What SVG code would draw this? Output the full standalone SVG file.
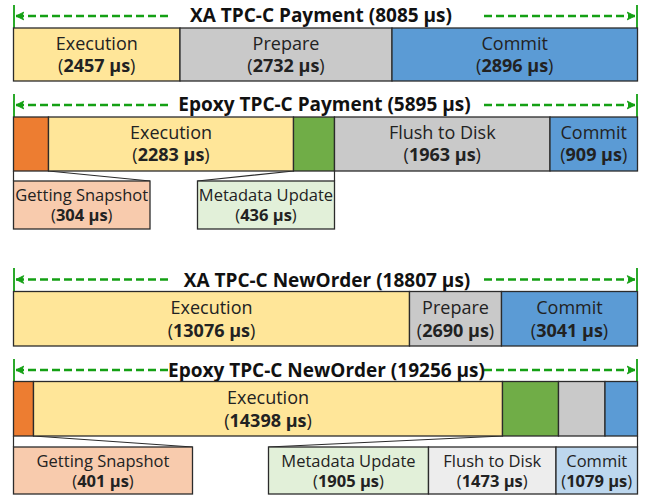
<svg xmlns="http://www.w3.org/2000/svg" width="646" height="496" viewBox="0 0 646 496">
  <defs>
    <style>
      .seg { stroke: #2b2b2b; stroke-width: 1.3; }
      .exec { fill: #FFE699; }
      .prep { fill: #C9C9C9; }
      .commit { fill: #5B9BD5; }
      .snap { fill: #ED7D31; }
      .meta { fill: #70AD47; }
      .c-snap { fill: #F8CBAD; }
      .c-meta { fill: #E2F0D9; }
      .c-flush { fill: #EDEDED; }
      .c-commit { fill: #BDD7EE; }
      .lead { stroke: #2b2b2b; stroke-width: 1.2; fill: none; }
      .title { font-family: "Open Sans", "Noto Sans", sans-serif; font-weight: bold; font-size: 19px; fill: #111; text-anchor: middle; }
      .lbl { font-family: "Open Sans", "Noto Sans", sans-serif; font-size: 18px; fill: #222; text-anchor: middle; }
      .small { font-family: "Open Sans", "Noto Sans", sans-serif; font-size: 16.5px; fill: #222; text-anchor: middle; }
      .b { font-weight: bold; }
      .span { stroke: #14A014; stroke-width: 2.4; stroke-dasharray: 8 4; fill: none; }
      .tick { stroke: #14A014; stroke-width: 1.8; }
    </style>
    <marker id="head" viewBox="0 0 10 10" refX="9" refY="5" markerWidth="4" markerHeight="4" orient="auto-start-reverse" markerUnits="strokeWidth">
      <path d="M1,1 L9,5 L1,9 L3,5 Z" fill="#14A014" stroke="#14A014" stroke-width="1"/>
    </marker>
  </defs>

  <!-- span arrows with end ticks -->
  <g id="connectors">
    <line class="tick" x1="14" y1="5" x2="14" y2="28"/>
    <line class="tick" x1="637" y1="5" x2="637" y2="28"/>
    <line class="span" x1="168" y1="16" x2="16" y2="16" marker-end="url(#head)"/>
    <line class="span" x1="484" y1="16" x2="635" y2="16" marker-end="url(#head)"/>

    <line class="tick" x1="14" y1="94" x2="14" y2="117"/>
    <line class="tick" x1="637" y1="94" x2="637" y2="117"/>
    <line class="span" x1="168" y1="105" x2="16" y2="105" marker-end="url(#head)"/>
    <line class="span" x1="484" y1="105" x2="635" y2="105" marker-end="url(#head)"/>

    <line class="tick" x1="14" y1="268" x2="14" y2="291"/>
    <line class="tick" x1="637" y1="268" x2="637" y2="291"/>
    <line class="span" x1="168" y1="279.5" x2="16" y2="279.5" marker-end="url(#head)"/>
    <line class="span" x1="484" y1="279.5" x2="635" y2="279.5" marker-end="url(#head)"/>

    <line class="tick" x1="14" y1="359" x2="14" y2="381"/>
    <line class="tick" x1="637" y1="359" x2="637" y2="381"/>
    <line class="span" x1="168" y1="370" x2="16" y2="370" marker-end="url(#head)"/>
    <line class="span" x1="484" y1="370" x2="635" y2="370" marker-end="url(#head)"/>

    <!-- callout leaders -->
    <path class="lead" d="M13.5,171 V181 M48.5,171 L150,181 M293.5,171 L197.5,181 M334.5,171 V181"/>
    <path class="lead" d="M13.5,436 V447 M33.5,436 L192.5,447 M502.5,436 L268.5,447 M637.5,436 V447"/>
  </g>

  <!-- XA TPC-C Payment -->
  <g id="xa-payment">
    <text class="title" x="321" y="21.5">XA TPC-C Payment (8085 µs)</text>
    <rect class="seg exec" x="13.5" y="28" width="166.5" height="53"/>
    <rect class="seg prep" x="180" y="28" width="212" height="53"/>
    <rect class="seg commit" x="392" y="28" width="245.5" height="53"/>
    <text class="lbl" x="96.75" y="50">Execution</text>
    <text class="lbl" x="96.75" y="72">(<tspan class="b">2457 µs</tspan>)</text>
    <text class="lbl" x="286" y="50">Prepare</text>
    <text class="lbl" x="286" y="72">(<tspan class="b">2732 µs</tspan>)</text>
    <text class="lbl" x="514.75" y="50">Commit</text>
    <text class="lbl" x="514.75" y="72">(<tspan class="b">2896 µs</tspan>)</text>
  </g>

  <!-- Epoxy TPC-C Payment -->
  <g id="epoxy-payment">
    <text class="title" x="324.5" y="110.5">Epoxy TPC-C Payment (5895 µs)</text>
    <rect class="seg snap" x="13.5" y="117" width="35" height="54"/>
    <rect class="seg exec" x="48.5" y="117" width="245" height="54"/>
    <rect class="seg meta" x="293.5" y="117" width="41" height="54"/>
    <rect class="seg prep" x="334.5" y="117" width="215.5" height="54"/>
    <rect class="seg commit" x="550" y="117" width="87.5" height="54"/>
    <text class="lbl" x="171" y="139">Execution</text>
    <text class="lbl" x="171" y="161">(<tspan class="b">2283 µs</tspan>)</text>
    <text class="lbl" x="442.25" y="139">Flush to Disk</text>
    <text class="lbl" x="442.25" y="161">(<tspan class="b">1963 µs</tspan>)</text>
    <text class="lbl" x="593.75" y="139">Commit</text>
    <text class="lbl" x="593.75" y="161">(<tspan class="b">909 µs</tspan>)</text>
  </g>
  <g id="epoxy-payment-snapshot">
    <rect class="seg c-snap" x="13.5" y="181" width="136.5" height="48"/>
    <text class="small" x="81.75" y="200.5">Getting Snapshot</text>
    <text class="small" x="81.75" y="220.5">(<tspan class="b">304 µs</tspan>)</text>
  </g>
  <g id="epoxy-payment-metadata">
    <rect class="seg c-meta" x="197.5" y="181" width="137" height="48"/>
    <text class="small" x="266" y="200.5">Metadata Update</text>
    <text class="small" x="266" y="220.5">(<tspan class="b">436 µs</tspan>)</text>
  </g>

  <!-- XA TPC-C NewOrder -->
  <g id="xa-neworder">
    <text class="title" x="327" y="286.5">XA TPC-C NewOrder (18807 µs)</text>
    <rect class="seg exec" x="13.5" y="291.5" width="396" height="54.5"/>
    <rect class="seg prep" x="409.5" y="291.5" width="92" height="54.5"/>
    <rect class="seg commit" x="501.5" y="291.5" width="136" height="54.5"/>
    <text class="lbl" x="211.5" y="314">Execution</text>
    <text class="lbl" x="211.5" y="337">(<tspan class="b">13076 µs</tspan>)</text>
    <text class="lbl" x="455.5" y="314">Prepare</text>
    <text class="lbl" x="455.5" y="337">(<tspan class="b">2690 µs</tspan>)</text>
    <text class="lbl" x="569.5" y="314">Commit</text>
    <text class="lbl" x="569.5" y="337">(<tspan class="b">3041 µs</tspan>)</text>
  </g>

  <!-- Epoxy TPC-C NewOrder -->
  <g id="epoxy-neworder">
    <rect x="169" y="359" width="314" height="22" fill="#fff"/>
    <text class="title" x="326.5" y="377">Epoxy TPC-C NewOrder (19256 µs)</text>
    <rect class="seg snap" x="13.5" y="381.5" width="20" height="54.5"/>
    <rect class="seg exec" x="33.5" y="381.5" width="469" height="54.5"/>
    <rect class="seg meta" x="502.5" y="381.5" width="56" height="54.5"/>
    <rect class="seg prep" x="558.5" y="381.5" width="46.5" height="54.5"/>
    <rect class="seg commit" x="605" y="381.5" width="32.5" height="54.5"/>
    <text class="lbl" x="268" y="404">Execution</text>
    <text class="lbl" x="268" y="427">(<tspan class="b">14398 µs</tspan>)</text>
  </g>
  <g id="epoxy-neworder-snapshot">
    <rect class="seg c-snap" x="13.5" y="447" width="179" height="47"/>
    <text class="small" x="103" y="466.5">Getting Snapshot</text>
    <text class="small" x="103" y="487">(<tspan class="b">401 µs</tspan>)</text>
  </g>
  <g id="epoxy-neworder-metadata">
    <rect class="seg c-meta" x="268.5" y="447" width="160" height="47"/>
    <text class="small" x="348.5" y="466.5">Metadata Update</text>
    <text class="small" x="348.5" y="487">(<tspan class="b">1905 µs</tspan>)</text>
  </g>
  <g id="epoxy-neworder-flush">
    <rect class="seg c-flush" x="428.5" y="447" width="127.5" height="47"/>
    <text class="small" x="492.25" y="466.5">Flush to Disk</text>
    <text class="small" x="492.25" y="487">(<tspan class="b">1473 µs</tspan>)</text>
  </g>
  <g id="epoxy-neworder-commit">
    <rect class="seg c-commit" x="556" y="447" width="81.5" height="47"/>
    <text class="small" x="596.75" y="466.5">Commit</text>
    <text class="small" x="596.75" y="487">(<tspan class="b">1079 µs</tspan>)</text>
  </g>
</svg>
